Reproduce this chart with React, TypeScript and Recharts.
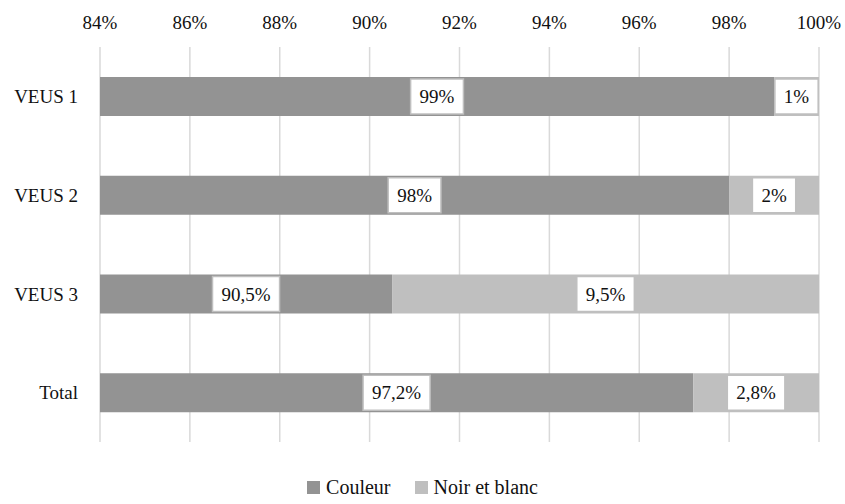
import { BarChart, Bar, XAxis, YAxis, CartesianGrid, Legend, LabelList } from "recharts";

const categories = ["VEUS 1", "VEUS 2", "VEUS 3", "Total"];
const couleur = [99, 98, 90.5, 97.2];
const noirEtBlanc = [1, 2, 9.5, 2.8];
const xTicks = [84, 86, 88, 90, 92, 94, 96, 98, 100];

const AXIS_MIN = 84;
const DARK = "#939393";
const LIGHT = "#bfbfbf";
const FONT = "Liberation Serif, DejaVu Serif, serif";

const fmt = (v: number) => String(v).replace(".", ",") + "%";

const rows = categories.map((name, i) => ({
  name,
  couleur: [AXIS_MIN, couleur[i]],
  noir: [couleur[i], couleur[i] + noirEtBlanc[i]],
  couleurLabel: fmt(couleur[i]),
  noirLabel: fmt(noirEtBlanc[i]),
}));

// rough text width for a serif at 19px
function textWidth(s: string) {
  let w = 0;
  for (const c of s) {
    if (c === "%") w += 15.8;
    else if (c === ",") w += 4.75;
    else w += 9.5;
  }
  return w;
}

function BoxLabel(props: any) {
  const { x, y, width, height, value } = props;
  const cx = Number(x) + Number(width) / 2;
  const cy = Number(y) + Number(height) / 2;
  const w = textWidth(String(value)) + 18;
  const h = 35;
  return (
    <g>
      <rect x={cx - w / 2} y={cy - h / 2} width={w} height={h} fill="#fff" stroke={LIGHT} strokeWidth={1.5} />
      <text x={cx} y={cy} textAnchor="middle" dominantBaseline="central" style={{ fontFamily: FONT }} fontSize={19} fill="#111">
        {value}
      </text>
    </g>
  );
}

function LegendContent() {
  const items = [
    { label: "Couleur", color: DARK },
    { label: "Noir et blanc", color: LIGHT },
  ];
  return (
    <div style={{ display: "flex", justifyContent: "center", alignItems: "center", fontFamily: FONT, fontSize: 20, color: "#111" }}>
      {items.map((it) => (
        <div key={it.label} style={{ display: "flex", alignItems: "center", margin: "0 12px" }}>
          <span style={{ display: "inline-block", width: 13, height: 13, background: it.color, marginRight: 6 }} />
          <span>{it.label}</span>
        </div>
      ))}
    </div>
  );
}

export default function App() {
  return (
    <div style={{ position: "absolute", left: 0, top: 0, background: "#fff", fontFamily: FONT }}>
      <BarChart
        width={845}
        height={504}
        data={rows}
        layout="vertical"
        margin={{ top: 17, right: 26, bottom: 62, left: 0 }}
        barSize={39}
        barGap={-39}
        style={{ fontFamily: FONT }}
      >
        <CartesianGrid horizontal={false} stroke="#d9d9d9" strokeWidth={1.5} />
        <XAxis
          type="number"
          orientation="top"
          domain={[AXIS_MIN, 100]}
          ticks={xTicks}
          allowDataOverflow
          axisLine={false}
          tickLine={false}
          tickSize={0}
          tickMargin={18}
          height={30}
          tickFormatter={(v) => v + "%"}
          tick={{ fontFamily: FONT, fontSize: 19, fill: "#111", style: { fontFamily: FONT } }}
        />
        <YAxis
          type="category"
          dataKey="name"
          width={100}
          axisLine={false}
          tickLine={false}
          tickSize={0}
          tickMargin={22}
          tick={{ fontFamily: FONT, fontSize: 19, fill: "#111", style: { fontFamily: FONT } }}
        />
        <Legend
          layout="horizontal"
          verticalAlign="middle"
          align="center"
          wrapperStyle={{ top: 476, left: 0, width: 845 }}
          content={LegendContent}
        />
        <Bar dataKey="couleur" name="Couleur" fill={DARK} isAnimationActive={false}>
          <LabelList dataKey="couleurLabel" content={BoxLabel} />
        </Bar>
        <Bar dataKey="noir" name="Noir et blanc" fill={LIGHT} isAnimationActive={false}>
          <LabelList dataKey="noirLabel" content={BoxLabel} />
        </Bar>
      </BarChart>
    </div>
  );
}
